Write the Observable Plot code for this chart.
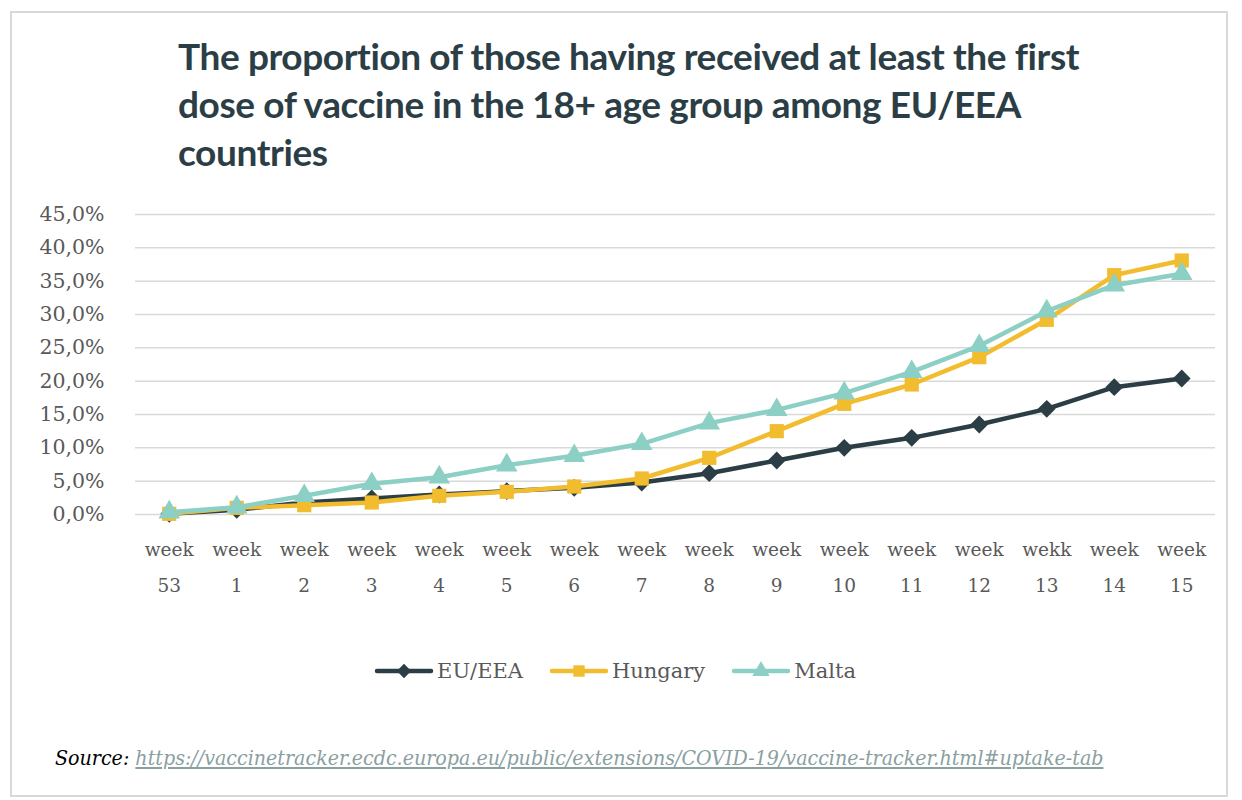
<!DOCTYPE html>
<html>
<head>
<meta charset="utf-8">
<script src="https://cdn.jsdelivr.net/npm/d3@7"></script>
<script src="https://cdn.jsdelivr.net/npm/@observablehq/plot@0.6"></script>
<style>
  html, body { margin: 0; padding: 0; background: #fff; }
  body { width: 1242px; height: 800px; position: relative; overflow: hidden; }
  #frame { position: absolute; left: 10px; top: 11px; width: 1218px; height: 786px; border: 2px solid #d9d9d9; box-sizing: border-box; }
  #title { position: absolute; left: 178px; top: 32px; width: 1040px; font-family: Lato, "Open Sans", sans-serif; font-weight: 700; font-size: 37px; line-height: 48px; color: #2b3e46; letter-spacing: -0.4px; }
  #chart { position: absolute; left: 0; top: 190px; }
  #legend { position: absolute; left: -6px; top: 659px; width: 1242px; display: flex; justify-content: center; align-items: center; font-family: "DejaVu Serif", serif; font-size: 21px; color: #595959; }
  .item { display: flex; align-items: center; margin: 0 13px; }
  .item svg { margin-right: 3px; }
  #source { position: absolute; left: 55px; top: 745px; font-family: "DejaVu Serif Condensed", "DejaVu Serif", serif; font-stretch: condensed; font-style: italic; font-size: 21.2px; color: #000; white-space: nowrap; }
  #source a { color: #8aa0a0; text-decoration: underline; }
</style>
</head>
<body>
<div id="frame"></div>
<div id="title">The proportion of those having received at least the first<br>dose of vaccine in the 18+ age group among EU/EEA<br>countries</div>
<div id="chart"></div>
<div id="legend"></div>
<div id="source">Source: <a>https://vaccinetracker.ecdc.europa.eu/public/extensions/COVID-19/vaccine-tracker.html#uptake-tab</a></div>
<script>
// ---- data ----
const weeks = ["53", "1", "2", "3", "4", "5", "6", "7", "8", "9", "10", "11", "12", "13", "14", "15"];
const weekWords = ["week", "week", "week", "week", "week", "week", "week", "week", "week", "week", "week", "week", "week", "wekk", "week", "week"];
const seriesNames = ["EU/EEA", "Hungary", "Malta"];
const euValues = [0.1, 0.7, 1.8, 2.4, 3.0, 3.5, 4.0, 4.8, 6.2, 8.1, 10.0, 11.5, 13.5, 15.85, 19.1, 20.4];
const huValues = [0.1, 1.0, 1.4, 1.8, 2.8, 3.4, 4.2, 5.4, 8.5, 12.5, 16.6, 19.5, 23.6, 29.2, 35.9, 38.1];
const mtValues = [0.35, 1.1, 2.8, 4.6, 5.6, 7.4, 8.8, 10.6, 13.7, 15.7, 18.2, 21.4, 25.3, 30.5, 34.4, 36.1];
const yTicks = [0, 5, 10, 15, 20, 25, 30, 35, 40, 45];

const colors = {"EU/EEA": "#2b3e46", "Hungary": "#f2bc2f", "Malta": "#8ccfc4"};
const symbols = {"EU/EEA": "diamond2", "Hungary": "square", "Malta": "triangle"};
const radii = {"EU/EEA": 8, "Hungary": 8, "Malta": 8};

const valuesBySeries = {"EU/EEA": euValues, "Hungary": huValues, "Malta": mtValues};
const rows = seriesNames.map(s => weeks.map((w, i) => ({series: s, week: w, value: valuesBySeries[s][i]})));

const marks = [
  Plot.ruleY(yTicks, {stroke: "#d9d9d9", strokeWidth: 1.5}),
  Plot.axisY({
    ticks: yTicks, tickSize: 0, tickPadding: 31,
    tickFormat: d => d.toFixed(1).replace(".", ",") + "%",
    fontSize: 20.5, fill: "#595959", fontFamily: "DejaVu Serif", label: null
  }),
  Plot.axisX({
    tickSize: 0, tickPadding: 16,
    tickFormat: (d) => weekWords[weeks.indexOf(d)] + "\n" + d,
    lineHeight: 1.95,
    fontSize: 18.5, fill: "#595959", fontFamily: "DejaVu Serif", label: null
  })
];
rows.forEach(data => {
  const s = data[0].series;
  marks.push(Plot.line(data, {x: "week", y: "value", stroke: colors[s], strokeWidth: 4.5, curve: "linear"}));
  marks.push(Plot.dot(data, {x: "week", y: "value", fill: colors[s], stroke: "none", symbol: symbols[s], r: radii[s]}));
});

const chart = Plot.plot({
  width: 1242, height: 430,
  marginTop: 24, marginBottom: 106, marginLeft: 135, marginRight: 27,
  x: {type: "point", domain: weeks, padding: 0.5, round: false},
  y: {domain: [0, 45]},
  style: {background: "transparent", overflow: "visible"},
  marks
});
document.getElementById("chart").appendChild(chart);

// legend
const legend = document.getElementById("legend");
seriesNames.forEach(s => {
  const item = document.createElement("div");
  item.className = "item";
  const sym = symbols[s] === "diamond2" ? d3.symbolDiamond2 : symbols[s] === "square" ? d3.symbolSquare : d3.symbolTriangle;
  const path = d3.symbol(sym, 130)();
  item.innerHTML = `<svg width="60" height="20" viewBox="0 0 60 20"><line x1="3" y1="10" x2="57" y2="10" stroke="${colors[s]}" stroke-width="4.5" stroke-linecap="round"/><path d="${path}" transform="translate(30,10)" fill="${colors[s]}"/></svg><span>${s}</span>`;
  legend.appendChild(item);
});
</script>
</body>
</html>
